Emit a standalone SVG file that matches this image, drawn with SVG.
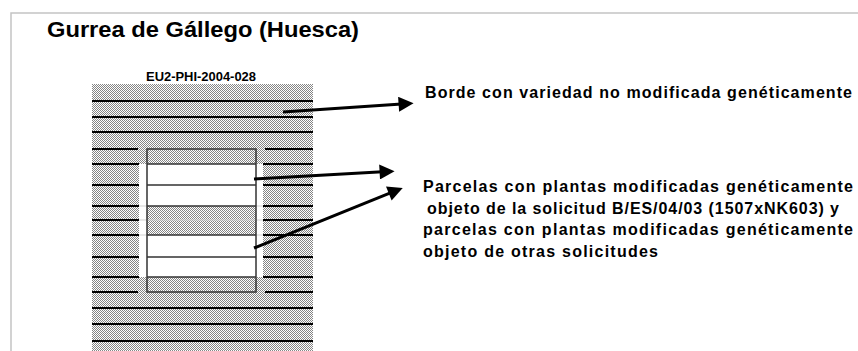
<svg xmlns="http://www.w3.org/2000/svg" width="858" height="351" viewBox="0 0 858 351">
  <defs>
    <pattern id="stip" patternUnits="userSpaceOnUse" x="0" y="0" width="2" height="2">
      <rect width="2" height="2" fill="#ffffff"/>
      <rect x="0" y="0" width="1" height="1" fill="#858585"/>
      <rect x="1" y="1" width="1" height="1" fill="#858585"/>
    </pattern>
    <marker id="ah" viewBox="0 0 10 10" refX="2" refY="5" markerWidth="6" markerHeight="5" orient="auto" markerUnits="strokeWidth">
      <path d="M0,0 L10,5 L0,10 z" fill="#000"/>
    </marker>
    <style>
      .t { font-family: "Liberation Sans", Arial, sans-serif; font-weight: bold; fill: #000; }
      .hl { stroke: #000; stroke-width: 1.8; fill: none; }
      .bx { stroke: #333; stroke-width: 1.5; fill: none; }
      .lg { stroke: #cfcfcf; stroke-width: 1.2; fill: none; }
      .ar { stroke: #000; stroke-width: 3; fill: none; marker-end: url(#ah); }
    </style>
  </defs>
  <rect width="858" height="351" fill="#ffffff"/>
  <g id="page-border">
    <path d="M11,351 L11,13 L858,13" stroke="#c4c4c4" stroke-width="1.5" fill="none"/>
  </g>
  <g id="title">
    <text class="t" x="47" y="36.5" font-size="22" textLength="312" lengthAdjust="spacingAndGlyphs">Gurrea de Gállego (Huesca)</text>
  </g>
  <g id="field">
    <text class="t" x="146" y="81" font-size="12.5" textLength="110" lengthAdjust="spacingAndGlyphs">EU2-PHI-2004-028</text>
    <rect x="92" y="84" width="221" height="267" fill="url(#stip)"/>
    <path class="hl" d="M92,101 H313 M92,117 H313 M92,132 H313 M92,308 H313 M92,324 H313 M92,341 H313"/>
    <path class="hl" d="M92,149 H138 M265,149 H313 M92,292 H138 M265,292 H313"/>
    <path class="hl" d="M92,164 H139 M263,164 H313 M92,185 H139 M263,185 H313 M92,206 H139 M263,206 H313 M92,220 H139 M263,220 H313 M92,235 H139 M263,235 H313 M92,257 H139 M263,257 H313 M92,277 H139 M263,277 H313"/>
    <rect x="139" y="164" width="124" height="113" fill="#ffffff"/>
    <rect x="147" y="206" width="109" height="29" fill="url(#stip)"/>
    <path class="lg" d="M139,206 H147 M256,206 H263 M139,220 H263 M139,235 H147 M256,235 H263"/>
  </g>
  <g id="plots">
    <rect class="bx" x="147" y="149" width="109" height="143"/>
    <path class="bx" d="M147,164 H256 M147,185 H256 M147,206 H256 M147,235 H256 M147,257 H256 M147,277 H256"/>
  </g>
  <g id="label-borde">
    <text class="t" x="425" y="98" font-size="16" textLength="427">Borde con variedad no modificada genéticamente</text>
  </g>
  <g id="label-parcelas">
    <text class="t" x="423" y="192" font-size="16" textLength="430">Parcelas con plantas modificadas genéticamente</text>
    <text class="t" x="427" y="213.5" font-size="16" textLength="412">objeto de la solicitud B/ES/04/03 (1507xNK603) y</text>
    <text class="t" x="423" y="235" font-size="16" textLength="430">parcelas con plantas modificadas genéticamente</text>
    <text class="t" x="423" y="256.5" font-size="16" textLength="235">objeto de otras solicitudes</text>
  </g>
  <g id="connectors">
    <line class="ar" x1="283" y1="112" x2="401.6" y2="104"/>
    <line class="ar" x1="254" y1="179" x2="382.6" y2="171.8"/>
    <line class="ar" x1="254" y1="248" x2="391.6" y2="192.4"/>
  </g>
</svg>
